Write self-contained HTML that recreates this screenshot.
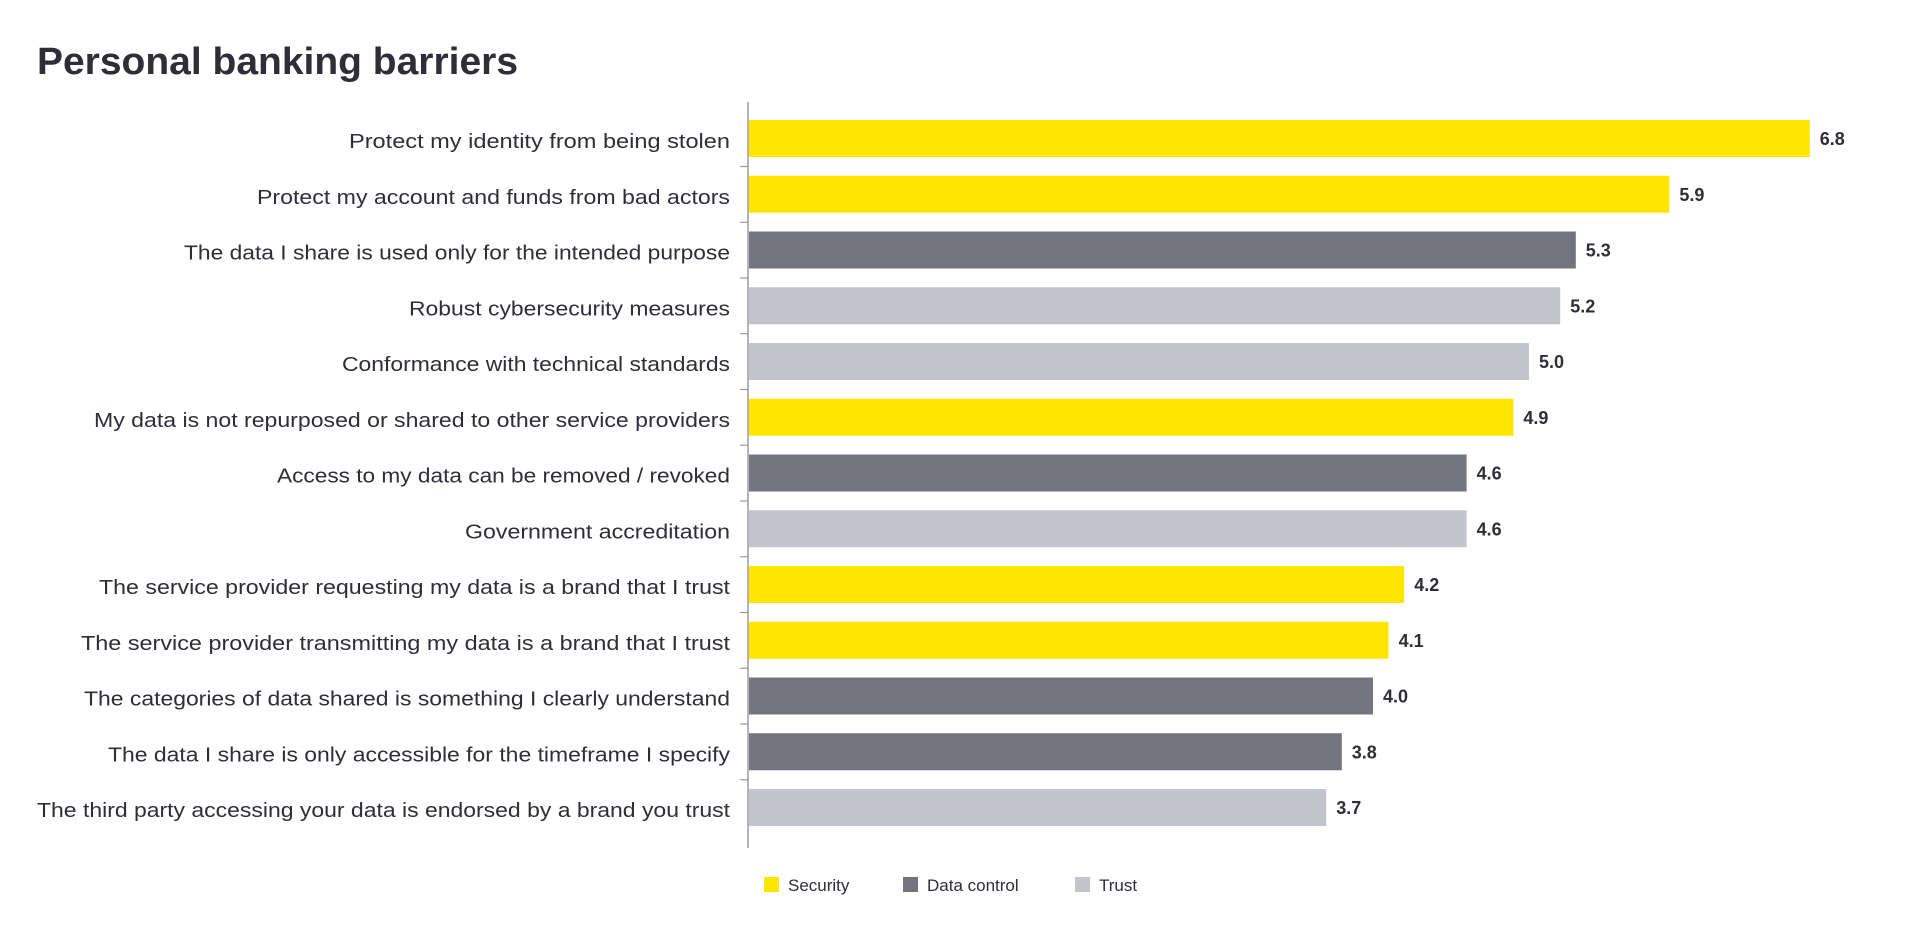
<!DOCTYPE html>
<html><head><meta charset="utf-8"><style>
html,body{margin:0;padding:0;background:#fff;}
svg{display:block;font-family:"Liberation Sans",sans-serif;}
</style></head><body>
<svg width="1920" height="930" viewBox="0 0 1920 930" xmlns="http://www.w3.org/2000/svg">
<text x="37" y="74" font-size="38" font-weight="bold" fill="#2E2E38" textLength="481" lengthAdjust="spacingAndGlyphs">Personal banking barriers</text>
<line x1="748" y1="102" x2="748" y2="848" stroke="#9a9aa0" stroke-width="1.5"/>
<g stroke="#9a9aa0" stroke-width="1.2">
<line x1="740" y1="166.5" x2="748" y2="166.5"/><line x1="740" y1="222.25" x2="748" y2="222.25"/><line x1="740" y1="278" x2="748" y2="278"/><line x1="740" y1="333.75" x2="748" y2="333.75"/><line x1="740" y1="389.5" x2="748" y2="389.5"/><line x1="740" y1="445.25" x2="748" y2="445.25"/><line x1="740" y1="501" x2="748" y2="501"/><line x1="740" y1="556.75" x2="748" y2="556.75"/><line x1="740" y1="612.5" x2="748" y2="612.5"/><line x1="740" y1="668.25" x2="748" y2="668.25"/><line x1="740" y1="724" x2="748" y2="724"/><line x1="740" y1="779.75" x2="748" y2="779.75"/>
</g>
<g id="bars"></g>
<g font-size="20" fill="#2E2E38" text-anchor="end" id="labels"></g>
<g font-size="18" font-weight="bold" fill="#2E2E38" id="vals"></g>
<rect x="764" y="877" width="15" height="15" fill="#FFE600"/>
<text x="788" y="891" font-size="17" fill="#2E2E38">Security</text>
<rect x="903" y="877" width="15" height="15" fill="#747480"/>
<text x="927" y="891" font-size="17" fill="#2E2E38">Data control</text>
<rect x="1075" y="877" width="15" height="15" fill="#C4C4CD"/>
<text x="1099" y="891" font-size="17" fill="#2E2E38">Trust</text>
</svg>
<script>
var d=[["Protect my identity from being stolen",6.8,"Y",349],["Protect my account and funds from bad actors",5.9,"Y",257],["The data I share is used only for the intended purpose",5.3,"D",184],["Robust cybersecurity measures",5.2,"L",409],["Conformance with technical standards",5.0,"L",342],["My data is not repurposed or shared to other service providers",4.9,"Y",94],["Access to my data can be removed / revoked",4.6,"D",277],["Government accreditation",4.6,"L",465],["The service provider requesting my data is a brand that I trust",4.2,"Y",99],["The service provider transmitting my data is a brand that I trust",4.1,"Y",81],["The categories of data shared is something I clearly understand",4.0,"D",84],["The data I share is only accessible for the timeframe I specify",3.8,"D",108],["The third party accessing your data is endorsed by a brand you trust",3.7,"L",37]];
var c={Y:"#FFE600",D:"#747480",L:"#C4C4CD"},ns="http://www.w3.org/2000/svg";
function el(t,a,txt,p){var e=document.createElementNS(ns,t);for(var k in a)e.setAttribute(k,a[k]);if(txt)e.textContent=txt;document.getElementById(p).appendChild(e);}
d.forEach(function(r,i){var y=120+i*55.75,w=r[1]*156;
el("rect",{x:749,y:y,width:w,height:37,fill:c[r[2]]},null,"bars");
el("text",{x:730,y:y+28,textLength:730-r[3],lengthAdjust:"spacingAndGlyphs"},r[0],"labels");
el("text",{x:749+w+10,y:y+25},r[1].toFixed(1),"vals");});
</script>
</body></html>
